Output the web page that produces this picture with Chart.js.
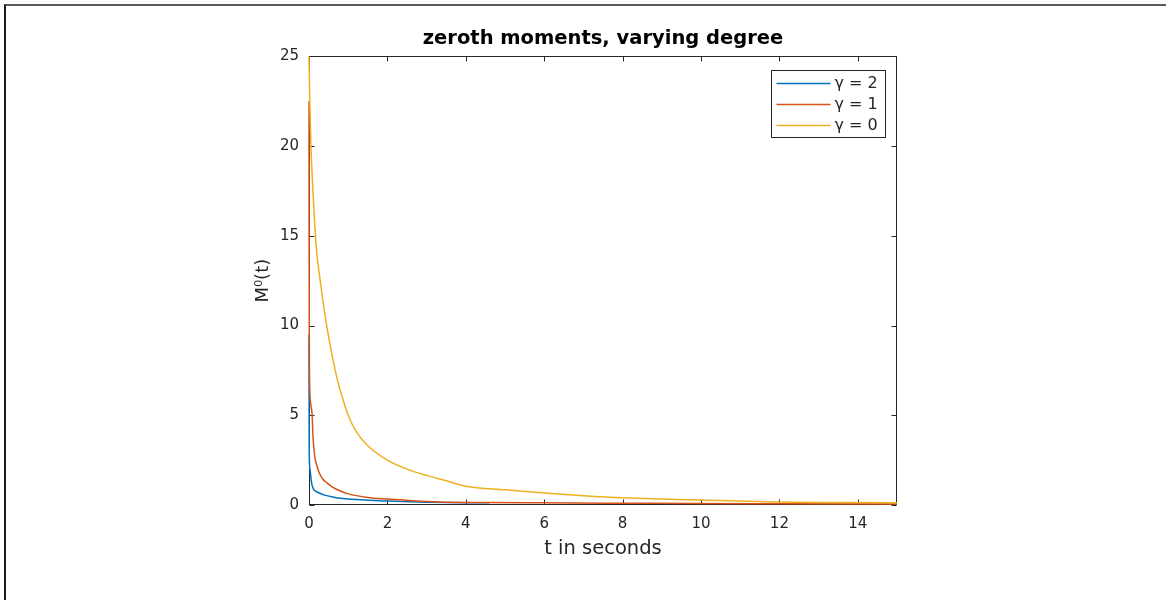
<!DOCTYPE html>
<html>
<head>
<meta charset="utf-8">
<script src="https://cdn.jsdelivr.net/npm/chart.js@4.4.1/dist/chart.umd.min.js"></script>
<style>
  html, body { margin: 0; padding: 0; background: #fff; }
  #wrap { position: relative; width: 1166px; height: 600px; }
  #frame { position: absolute; left: 4px; top: 4px; right: 0; bottom: 0;
           border-top: 2px solid #5a5a5a; border-left: 2px solid #1a1a1a; pointer-events: none; }
</style>
</head>
<body>
<div id="wrap">
  <canvas id="myChart" width="1166" height="600"></canvas>
  <div id="frame"></div>
</div>
<script>
// gamma = 2
const tBlue = [0, 0.002, 0.005, 0.01, 0.03, 0.06, 0.1, 0.15, 0.26, 0.4, 0.6, 0.8, 1.2, 2, 3, 4.6];
const mBlue = [9.5, 6, 3.5, 2.5, 1.9, 1.3, 0.95, 0.8, 0.67, 0.55, 0.45, 0.38, 0.3, 0.22, 0.16, 0.12];
// gamma = 1
const tRed = [0, 0.003, 0.008, 0.02, 0.04, 0.08, 0.1, 0.14, 0.2, 0.26, 0.35, 0.45, 0.6, 0.8, 1.0, 1.5, 2, 2.5, 3.3, 4.5, 6, 8, 10, 12, 15];
const mRed = [22.5, 14, 9, 6.5, 5.7, 5.0, 3.9, 2.8, 2.2, 1.8, 1.45, 1.25, 1.0, 0.78, 0.62, 0.42, 0.33, 0.26, 0.17, 0.14, 0.12, 0.1, 0.08, 0.07, 0.06];
// gamma = 0
const tYel = [0, 0.02, 0.05, 0.1, 0.15, 0.2, 0.28, 0.36, 0.45, 0.55, 0.7, 0.85, 1.0, 1.2, 1.5, 2, 2.5, 3, 3.5, 4, 5, 6, 7, 8, 9, 10, 12, 15];
const mYel = [25, 22.5, 20, 17.5, 15.5, 14, 12.6, 11.3, 10, 8.8, 7.2, 6.0, 5.0, 4.1, 3.3, 2.5, 2.0, 1.65, 1.35, 1.05, 0.85, 0.67, 0.52, 0.4, 0.33, 0.28, 0.17, 0.13];

const labels = ['\u03b3 = 2', '\u03b3 = 1', '\u03b3 = 0'];
const xTicks = [0, 2, 4, 6, 8, 10, 12, 14];
const yTicks = [0, 5, 10, 15, 20, 25];

function pts(ts, ms){
    return ts.map((t, i) => ({x: t, y: ms[i]}));
};

const axisColor = '#262626';
const FONT = "'DejaVu Sans', sans-serif";

// MATLAB style box with inward ticks (under the lines, like layer 'bottom')
const boxTicks = {
    id: 'boxTicks',
    beforeDatasetsDraw(chart){
        const {ctx, chartArea: a, scales: {x, y}} = chart;
        const L = Math.round(a.left) + 0.5, R = Math.round(a.right) - 0.5;
        const T = Math.round(a.top) + 0.5, B = Math.round(a.bottom) - 0.5;
        ctx.save();
        ctx.strokeStyle = axisColor;
        ctx.lineWidth = 1;
        ctx.strokeRect(L, T, R - L, B - T);
        ctx.beginPath();
        xTicks.forEach(v => {
            const px = Math.round(x.getPixelForValue(v)) + 0.5;
            ctx.moveTo(px, B); ctx.lineTo(px, B - 5);
            ctx.moveTo(px, T); ctx.lineTo(px, T + 5);
        });
        yTicks.forEach(v => {
            const py = Math.round(y.getPixelForValue(v)) + 0.5;
            ctx.moveTo(L, py); ctx.lineTo(L + 5, py);
            ctx.moveTo(R, py); ctx.lineTo(R - 5, py);
        });
        ctx.stroke();
        ctx.restore();
    }
};

// legend box inside the top right corner
const boxLegend = {
    id: 'boxLegend',
    afterDraw(chart){
        const {ctx, chartArea: a} = chart;
        const w = 114, h = 67;
        const bx = Math.round(a.right) - 12 - w + 0.5, by = Math.round(a.top) + 14 + 0.5;
        ctx.save();
        ctx.fillStyle = '#fff';
        ctx.fillRect(bx, by, w, h);
        ctx.strokeStyle = axisColor;
        ctx.lineWidth = 1;
        ctx.strokeRect(bx, by, w, h);
        ctx.font = '16px ' + FONT;
        ctx.textBaseline = 'middle';
        chart.data.datasets.forEach((ds, i) => {
            const cy = by + 13 + i * 21;
            ctx.strokeStyle = ds.borderColor;
            ctx.lineWidth = 1.5;
            ctx.beginPath();
            ctx.moveTo(bx + 5, cy); ctx.lineTo(bx + 59, cy);
            ctx.stroke();
            ctx.fillStyle = axisColor;
            ctx.fillText(ds.label, bx + 63, cy);
        });
        ctx.restore();
    }
};

const ctx = document.getElementById('myChart').getContext('2d');
const myChart = new Chart(ctx, {
    type: 'line',
    data: {
        datasets: [{
            label: labels[0],
            data: pts(tBlue, mBlue),
            borderColor: '#0072BD',
            borderWidth: 1.5,
            clip: 2,
            order: 3
        }, {
            label: labels[1],
            data: pts(tRed, mRed),
            borderColor: '#D95319',
            borderWidth: 1.5,
            clip: 2,
            order: 2
        }, {
            label: labels[2],
            data: pts(tYel, mYel),
            borderColor: '#EDB120',
            borderWidth: 1.5,
            clip: 2,
            order: 1
        }]
    },
    options: {
        responsive: false,
        animation: false,
        layout: {padding: {left: 249, right: 269, top: 17, bottom: 25}},
        elements: {
            point: {radius: 0},
            line: {tension: 0, cubicInterpolationMode: 'monotone'}
        },
        plugins: {
            legend: {display: false},
            tooltip: {enabled: false},
            title: {
                display: true,
                fullSize: false,
                text: 'zeroth moments, varying degree',
                color: '#000',
                font: {family: FONT, size: 19.5, weight: 'bold'},
                padding: {top: 10, bottom: 6}
            }
        },
        scales: {
            x: {
                type: 'linear',
                min: 0, max: 15,
                grid: {display: false, drawTicks: false},
                border: {display: false},
                afterBuildTicks: s => { s.ticks = xTicks.map(v => ({value: v})); },
                afterFit: s => { s.height = 70; },
                ticks: {color: axisColor, padding: 10, maxRotation: 0, font: {family: FONT, size: 15}},
                title: {display: true, text: 't in seconds', color: axisColor,
                        font: {family: FONT, size: 19.5}, padding: {top: 4, bottom: 14}}
            },
            y: {
                min: 0, max: 25,
                grid: {display: false, drawTicks: false},
                border: {display: false},
                afterBuildTicks: s => { s.ticks = yTicks.map(v => ({value: v})); },
                afterFit: s => { s.width = 60; },
                ticks: {color: axisColor, padding: 10, font: {family: FONT, size: 15}},
                title: {display: true, text: 'M\u2070(t)', color: axisColor,
                        font: {family: FONT, size: 18}, padding: {top: 4, bottom: 4}}
            }
        }
    },
    plugins: [boxTicks, boxLegend]
});
</script>
</body>
</html>
